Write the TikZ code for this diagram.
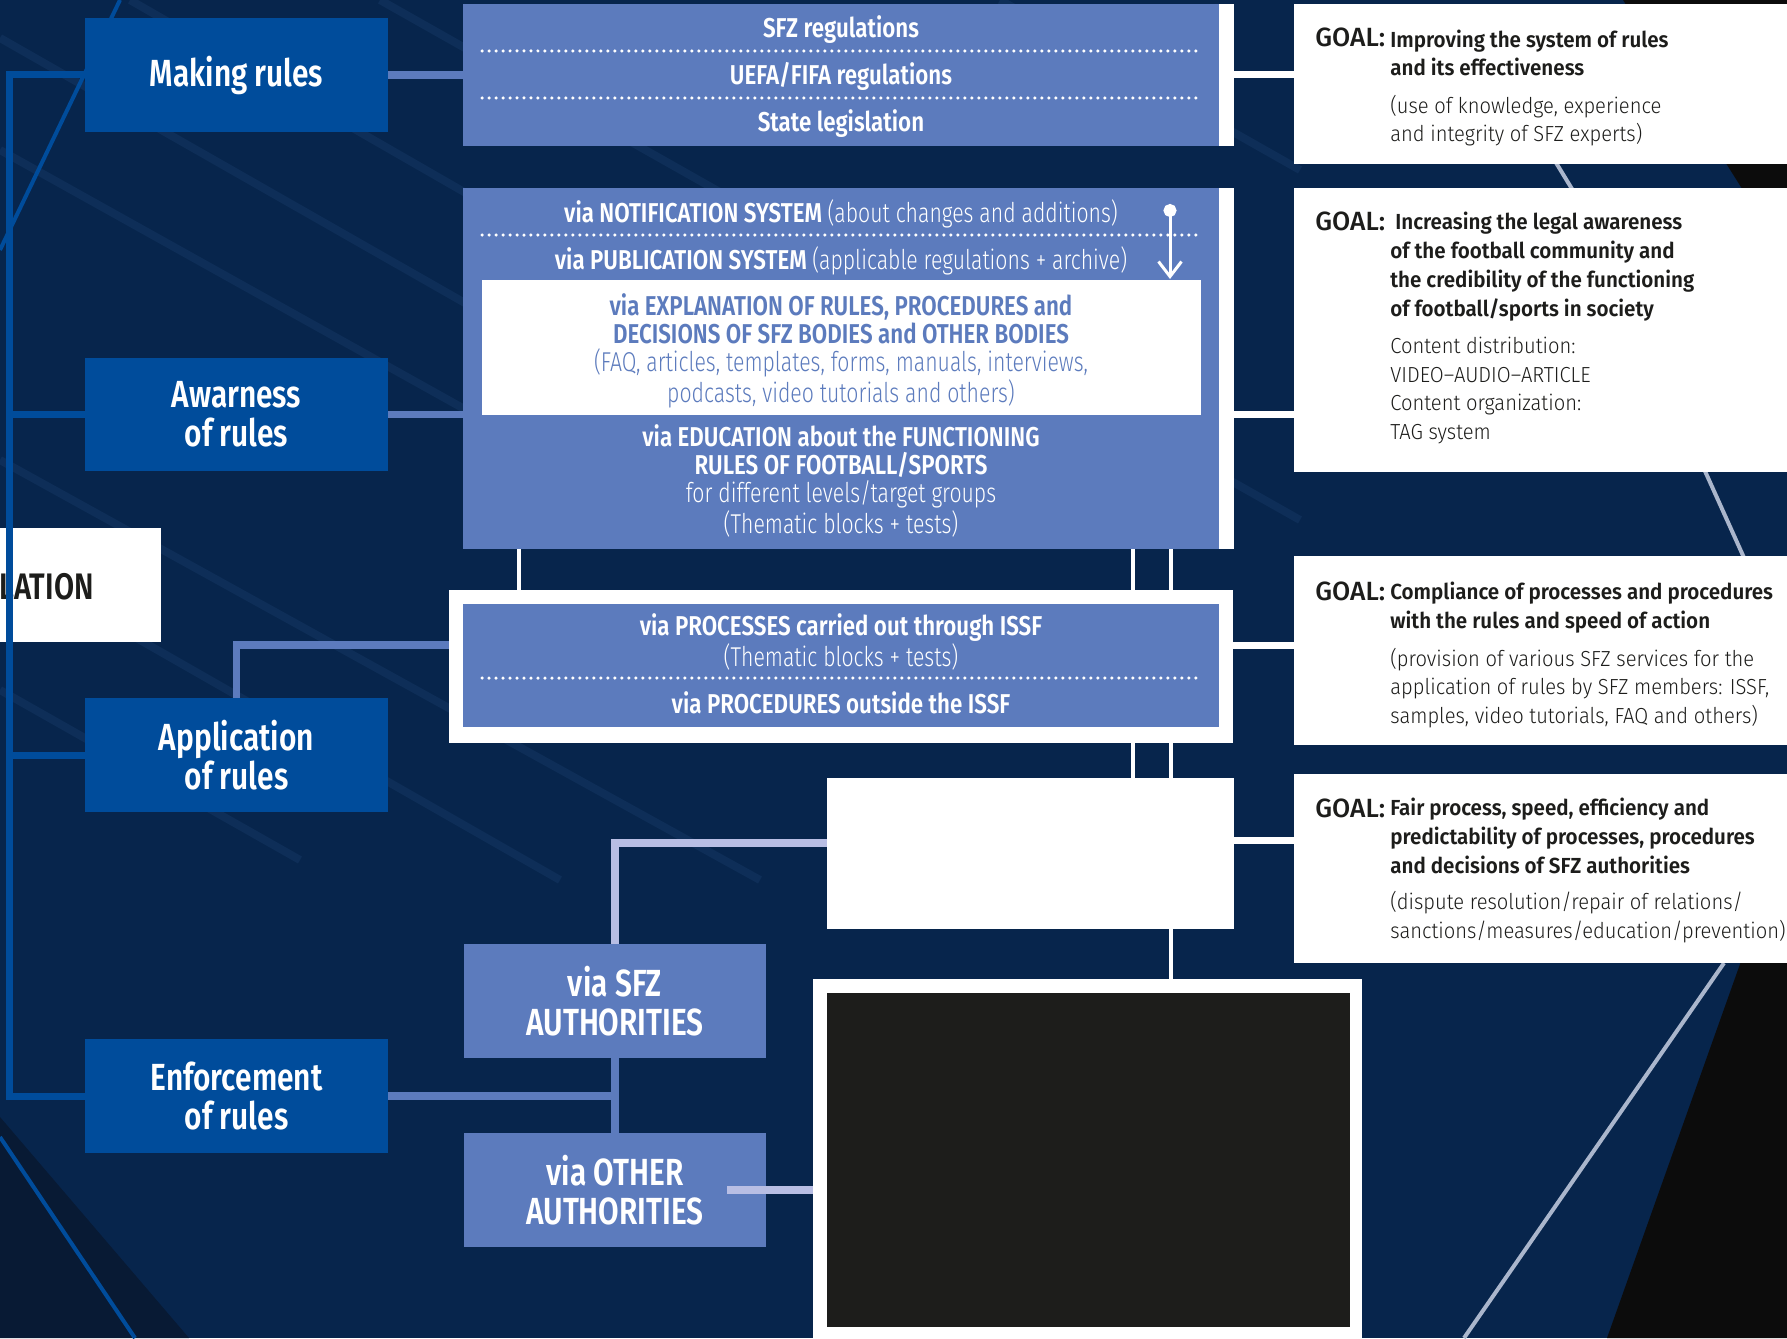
\documentclass[tikz,border=0pt]{standalone}
\usepackage{fontspec}
\usetikzlibrary{arrows.meta}
\setmainfont{Fira Sans}
\newfontfamily\rulefont{Fira Sans SemiBold}[FakeStretch=0.79]
\newfontfamily\cndbold{Fira Sans SemiBold}[FakeStretch=0.82]
\newfontfamily\cndlight{Fira Sans Light}[FakeStretch=0.78]
\newfontfamily\goalhead{Fira Sans Medium}
\newfontfamily\goalbold{Fira Sans SemiBold}[FakeStretch=0.945]
\newfontfamily\goallight{Fira Sans Light}[FakeStretch=0.925]
\definecolor{navy}{RGB}{7,37,76}
\definecolor{navyline}{RGB}{14,46,88}
\definecolor{navydeep}{RGB}{8,26,52}
\definecolor{rulefill}{RGB}{0,76,155}
\definecolor{viafill}{RGB}{92,123,189}
\definecolor{softline}{RGB}{184,190,228}
\definecolor{inkdark}{RGB}{29,29,27}
\definecolor{coal}{RGB}{12,12,12}
\definecolor{streak}{RGB}{170,182,204}

\begin{document}
\begin{tikzpicture}[x=0.02cm, y=-0.02cm,
 rulebox/.style={fill=rulefill, minimum width=6.06cm, minimum height=2.28cm,
          text=white, align=center, inner sep=0pt,
          font=\rulefont\fontsize{21.5}{22.2}\selectfont},
 viabox/.style={fill=viafill, minimum width=15.12cm, inner sep=0pt},
 authbox/.style={fill=viafill, minimum width=6.04cm, minimum height=2.28cm,
          text=white, align=center, inner sep=0pt,
          font=\rulefont\fontsize{21.5}{22.2}\selectfont},
 whitebox/.style={fill=white, inner sep=0pt},
 goalbox/.style={fill=white, minimum width=10.06cm, inner sep=0pt},
 viatext/.style={text=white, align=center, inner sep=0pt,
          font=\cndbold\fontsize{15.5}{16.1}\selectfont},
 bus/.style={draw=rulefill, line width=0.14cm},
 link/.style={draw=viafill, line width=0.15cm},
 softlink/.style={draw=softline, line width=0.15cm},
 wire/.style={draw=white, line width=0.14cm},
 thinwire/.style={draw=white, line width=0.08cm},
 dots/.style={draw=white, line width=0.07cm, line cap=round,
          dash pattern=on 0pt off 0.14cm},
 goalhd/.style={anchor=base west, inner sep=0pt, text=inkdark,
          font=\goalhead\fontsize{15}{16.5}\selectfont},
 goaltxt/.style={anchor=base west, inner sep=0pt, align=left, text=inkdark,
          font=\goalbold\fontsize{12.4}{16.5}\selectfont},
 goalnote/.style={anchor=base west, inner sep=0pt, align=left, text=inkdark,
          font=\goallight\fontsize{12.4}{16.2}\selectfont}
]
\useasboundingbox (0,0) rectangle (1787,1338);
% backdrop
\fill[navy] (0,0) rectangle (1787,1338);
\foreach \xa/\ya/\xb/\yb in {0/38/600/380, 0/150/520/440, 130/0/1000/500,
    380/0/1300/520, 0/460/760/880, 0/560/560/880, 1000/0/1300/170, 0/690/300/860}
  \draw[navyline, line width=0.16cm] (\xa,\ya) -- (\xb,\yb);
\draw[rulefill, line width=0.08cm] (120,0) -- (0,250);
\fill[navydeep] (0,1117) -- (189,1338) -- (0,1338) -- cycle;
\draw[rulefill, line width=0.08cm] (0,1137) -- (135,1338);
\fill[coal] (1623,0) -- (1787,0) -- (1787,260) -- cycle;
\fill[coal] (1745,950) -- (1607,1338) -- (1787,1338) -- (1787,950) -- cycle;
\draw[streak, line width=0.08cm] (1530,120) -- (1600,235);
\draw[streak, line width=0.08cm] (1700,460) -- (1745,560);
\draw[streak, line width=0.08cm] (1724,963) -- (1464,1338);

% left column
\node[whitebox, minimum width=3.42cm, minimum height=2.28cm] (titlebox) at (75.5,585) {};
\node[anchor=base east, inner sep=0pt, text=inkdark,
      font=\rulefont\fontsize{21}{22}\selectfont] (titletext) at (94,599) {LATION};
\node[rulebox] (making) at (236.5,75) {Making rules};
\node[rulebox] (aware) at (236.5,414.5) {Awarness\\of rules};
\node[rulebox] (applic) at (236.5,755) {Application\\of rules};
\node[rulebox] (enforce) at (236.5,1096) {Enforcement\\of rules};
\coordinate (spine) at (9.5,0);
\draw[bus] (making.west) -- (making.west -| spine) |- (enforce.west);
\draw[bus] (aware.west) -- (aware.west -| spine);
\draw[bus] (applic.west) -- (applic.west -| spine);

% middle column
\node[viabox, minimum height=2.84cm] (regbox) at (841,75) {};
\node[whitebox, minimum width=0.3cm, minimum height=2.84cm] (regstrip) at (1226.5,75) {};
\node[viatext, anchor=base] (sfzreg) at (841,38) {SFZ regulations};
\node[viatext, anchor=base] (uefareg) at (841,85) {UEFA/FIFA regulations};
\node[viatext, anchor=base] (statereg) at (841,132) {State legislation};
\draw[dots] (482,51) -- (1201,51);
\draw[dots] (482,98) -- (1201,98);

\node[viabox, minimum height=7.22cm] (infobox) at (841,368.5) {};
\node[whitebox, minimum width=0.3cm, minimum height=7.22cm] (infostrip) at (1226.5,368.5) {};
\node[viatext, anchor=base] (notify) at (841,222)
  {via NOTIFICATION SYSTEM {\cndlight (about changes and additions)}};
\draw[dots] (482,235) -- (1201,235);
\node[viatext, anchor=base] (publish) at (841,269)
  {via PUBLICATION SYSTEM {\cndlight (applicable regulations + archive)}};
\coordinate (notetop) at (1170,204);
\coordinate (notebot) at (1170,279);
\draw[white, line width=0.06cm,
      {Circle[length=0.26cm]}-{Straight Barb[length=0.3cm,width=0.46cm]}] (notetop) -- (notebot);
\node[whitebox, minimum width=14.38cm, minimum height=2.7cm] (explbox) at (841.5,347.5) {};
\node[viatext, text=viafill, anchor=base] (explain) at (841,402)
  {via EXPLANATION OF RULES, PROCEDURES and\\DECISIONS OF SFZ BODIES and OTHER BODIES\\
   {\cndlight (FAQ, articles, templates, forms, manuals, interviews,}\\
   {\cndlight podcasts, video tutorials and others)}};
\node[viatext, anchor=base] (educate) at (841,533)
  {via EDUCATION about the FUNCTIONING\\RULES OF FOOTBALL/SPORTS\\
   {\cndlight for different levels/target groups}\\{\cndlight (Thematic blocks + tests)}};

\node[whitebox, minimum width=15.68cm, minimum height=3.06cm] (procframe) at (841,666.5) {};
\node[viabox, minimum height=2.46cm] (procbox) at (841,665.5) {};
\node[viatext, anchor=base] (process) at (841,666)
  {via PROCESSES carried out through ISSF\\{\cndlight (Thematic blocks + tests)}};
\draw[dots] (482,678) -- (1201,678);
\node[viatext, anchor=base] (procedure) at (841,713) {via PROCEDURES outside the ISSF};

\node[whitebox, minimum width=8.14cm, minimum height=3.02cm] (blankbox) at (1030.5,853.5) {};
\node[authbox] (sfzauth) at (615,1001) {via SFZ\\AUTHORITIES};
\node[authbox] (otherauth) at (615,1190) {via OTHER\\AUTHORITIES};
\node[whitebox, minimum width=10.98cm, minimum height=7.38cm] (darkframe) at (1087.5,1163.5) {};
\node[fill=inkdark, inner sep=0pt, minimum width=10.46cm, minimum height=6.68cm] (darkbox) at (1088.5,1160) {};

% links from the left column
\coordinate (procin) at (0,645);
\coordinate (blankin) at (0,843);
\draw[link] (making.east) -- (regbox.west);
\draw[link] (aware.east) -- (aware.east -| infobox.west);
\draw[link] (applic.north) |- (procin -| procframe.west);
\draw[link] (enforce.east) -- (enforce.east -| sfzauth.south);
\draw[link] (sfzauth.south) -- (otherauth.north);
\draw[softlink] (sfzauth.north) |- (blankin -| blankbox.west);
\draw[softlink] ([xshift=-0.78cm]otherauth.east) -- (otherauth.east -| darkframe.west);

% white drops between the middle boxes
\foreach \dx in {519,1133,1171}
  \draw[thinwire] (\dx,0 |- infobox.south) -- (\dx,0 |- procframe.north);
\foreach \dx in {1133,1171}
  \draw[thinwire] (\dx,0 |- procframe.south) -- (\dx,0 |- blankbox.north);
\draw[thinwire] (1171,0 |- blankbox.south) -- (1171,0 |- darkframe.north);

% goals
\node[goalbox, minimum height=3.2cm] (goal1) at (1545.5,84) {};
\node[goalbox, minimum height=5.68cm] (goal2) at (1545.5,330) {};
\node[goalbox, minimum height=3.78cm] (goal3) at (1545.5,650.5) {};
\node[goalbox, minimum height=3.78cm] (goal4) at (1545.5,868.5) {};
\coordinate (blankout) at (0,840);
\draw[wire] (regstrip.east) -- (regstrip.east -| goal1.west);
\draw[wire] (aware.east -| infostrip.east) -- (aware.east -| goal2.west);
\draw[wire] (procin -| procframe.east) -- (procin -| goal3.west);
\draw[wire] (blankout -| blankbox.east) -- (blankout -| goal4.west);

\node[goalhd] (g1head) at (1315,47) {GOAL:};
\node[goaltxt] (g1aim) at (1390,76) {Improving the system of rules\\and its effectiveness};
\node[goalnote] (g1note) at (1390,142) {(use of knowledge, experience\\and integrity of SFZ experts)};
\node[goalhd] (g2head) at (1315,231) {GOAL:};
\node[goaltxt] (g2aim) at (1390,316) {\hspace{0.1cm}Increasing the legal awareness\\of the football community and\\
  the credibility of the functioning\\of football/sports in society};
\node[goalnote] (g2note) at (1390,439) {Content distribution:\\VIDEO–AUDIO–ARTICLE\\Content organization:\\TAG system};
\node[goalhd] (g3head) at (1315,600) {GOAL:};
\node[goaltxt] (g3aim) at (1390,628) {Compliance of processes and procedures\\with the rules and speed of action};
\node[goalnote] (g3note) at (1390,723) {(provision of various SFZ services for the\\
  application of rules by SFZ members: ISSF,\\samples, video tutorials, FAQ and others)};
\node[goalhd] (g4head) at (1315,817) {GOAL:};
\node[goaltxt] (g4aim) at (1390,873) {Fair process, speed, efficiency and\\
  predictability of processes, procedures\\and decisions of SFZ authorities};
\node[goalnote] (g4note) at (1390,938) {(dispute resolution/repair of relations/\\
  sanctions/measures/education/prevention)};
\end{tikzpicture}
\end{document}
